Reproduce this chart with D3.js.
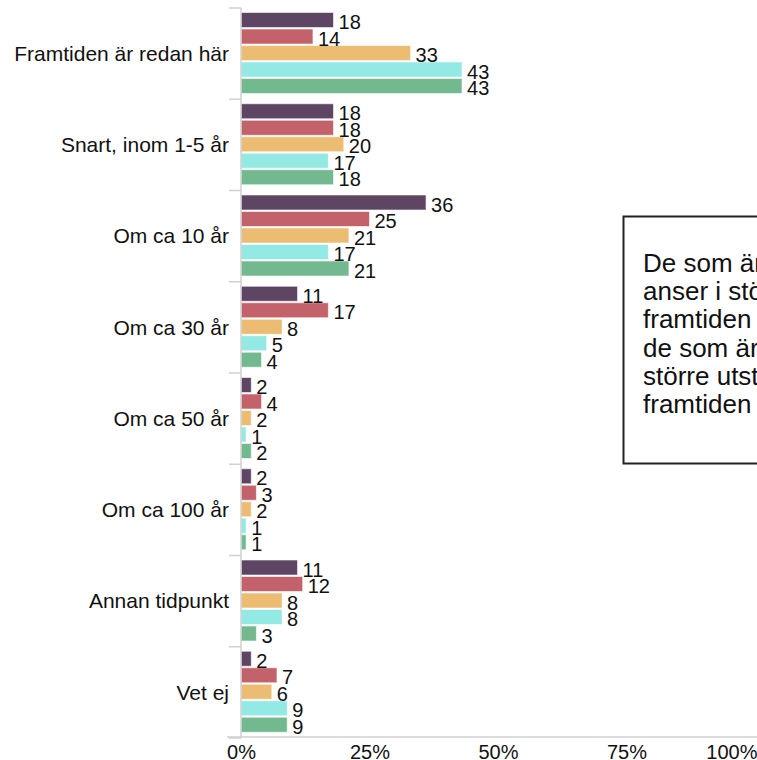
<!DOCTYPE html>
<html>
<head>
<meta charset="utf-8">
<script src="https://cdn.jsdelivr.net/npm/d3@7"></script>
<style>
  html, body { margin: 0; padding: 0; background: #fff; overflow: hidden; }
  svg { display: block; font-family: "Liberation Sans", Arial, sans-serif; }
</style>
</head>
<body>
<div id="chart"></div>
<script>
// ---- Data ----
const categories = [
  "Framtiden är redan här",
  "Snart, inom 1-5 år",
  "Om ca 10 år",
  "Om ca 30 år",
  "Om ca 50 år",
  "Om ca 100 år",
  "Annan tidpunkt",
  "Vet ej"
];
const seriesNames = ["Grupp 1", "Grupp 2", "Grupp 3", "Grupp 4", "Grupp 5"];
const seriesColors = ["#5e4563", "#c4626b", "#ebbc72", "#93e9e3", "#73b98f"];
const grupp1 = [18, 18, 36, 11, 2, 2, 11, 2];
const grupp2 = [14, 18, 25, 17, 4, 3, 12, 7];
const grupp3 = [33, 20, 21, 8, 2, 2, 8, 6];
const grupp4 = [43, 17, 17, 5, 1, 1, 8, 9];
const grupp5 = [43, 18, 21, 4, 2, 1, 3, 9];
const seriesValues = [grupp1, grupp2, grupp3, grupp4, grupp5];
const tickValues = [0, 25, 50, 75, 100];
const annotationLines = [
  "De som är yngre",
  "anser i större utsträckning att",
  "framtiden redan är här än",
  "de som är äldre, som i",
  "större utsträckning anser att",
  "framtiden ligger längre bort."
];

// ---- Layout ----
const W = 757, H = 760;
const svg = d3.select("#chart").append("svg").attr("width", W).attr("height", H);

const x = d3.scaleLinear().domain([0, 100]).range([241, 755]);
const y = d3.scaleBand().domain(categories).range([8, 738]).padding(0);
const ys = d3.scaleBand().domain(seriesNames).range([4.5, 85.5]).paddingInner(0.09);

const axisColor = "#d0d0d0";
const textColor = "#111";

// bars
const data = [];
categories.forEach((c, ci) => {
  seriesNames.forEach((s, si) => {
    data.push({ cat: c, series: s, si, value: seriesValues[si][ci] });
  });
});

const g = svg.append("g");
g.selectAll("rect.bar").data(data).join("rect")
  .attr("class", "bar")
  .attr("x", x(0))
  .attr("y", d => y(d.cat) + ys(d.series))
  .attr("width", d => x(d.value) - x(0))
  .attr("height", ys.bandwidth())
  .attr("fill", d => seriesColors[d.si])
  .attr("stroke", "#ffffff")
  .attr("stroke-opacity", 0.6)
  .attr("stroke-width", 1);

g.selectAll("text.val").data(data).join("text")
  .attr("class", "val")
  .attr("x", d => x(d.value) + 5)
  .attr("y", d => y(d.cat) + ys(d.series) + ys.bandwidth() + 1.5)
  .attr("font-size", 20)
  .attr("fill", textColor)
  .text(d => d.value);

// y axis (line + band-boundary ticks)
const yAxis = svg.append("g");
yAxis.append("line")
  .attr("x1", x(0)).attr("x2", x(0))
  .attr("y1", y.range()[0]).attr("y2", y.range()[1])
  .attr("stroke", axisColor).attr("stroke-width", 1.5);
const bounds = categories.map(c => y(c)).concat([y.range()[1]]);
yAxis.selectAll("line.tk").data(bounds).join("line")
  .attr("class", "tk")
  .attr("x1", x(0) - 12).attr("x2", x(0))
  .attr("y1", d => d).attr("y2", d => d)
  .attr("stroke", axisColor).attr("stroke-width", 1.5);
yAxis.selectAll("text.cat").data(categories).join("text")
  .attr("class", "cat")
  .attr("x", x(0) - 12)
  .attr("y", d => y(d) + y.bandwidth() / 2)
  .attr("dy", "0.35em")
  .attr("text-anchor", "end")
  .attr("font-size", 21)
  .attr("fill", textColor)
  .text(d => d);

// x axis
const xAxis = svg.append("g")
  .attr("transform", `translate(0,${y.range()[1] - 1})`)
  .call(d3.axisBottom(x).tickValues(tickValues).tickFormat(d => d + "%").tickSize(0).tickPadding(8));
xAxis.select(".domain").remove();
xAxis.append("line")
  .attr("x1", x(0) - 14).attr("x2", W)
  .attr("y1", 0).attr("y2", 0)
  .attr("stroke", axisColor).attr("stroke-width", 1.5);
xAxis.selectAll(".tick text")
  .attr("font-size", 20)
  .attr("font-family", "Liberation Sans, Arial, sans-serif")
  .attr("fill", textColor)
  .attr("text-anchor", d => d === 100 ? "end" : "middle")
  .attr("dx", d => d === 100 ? 2 : 0);

// annotation box
const ann = svg.append("g");
ann.append("rect")
  .attr("x", 623.5).attr("y", 216.5)
  .attr("width", 300).attr("height", 247)
  .attr("fill", "#fff")
  .attr("stroke", "#222").attr("stroke-width", 2);
ann.selectAll("text").data(annotationLines).join("text")
  .attr("x", 643)
  .attr("y", (d, i) => 271.7 + i * 28.3)
  .attr("font-size", 26)
  .attr("fill", textColor)
  .text(d => d);
</script>
</body>
</html>
